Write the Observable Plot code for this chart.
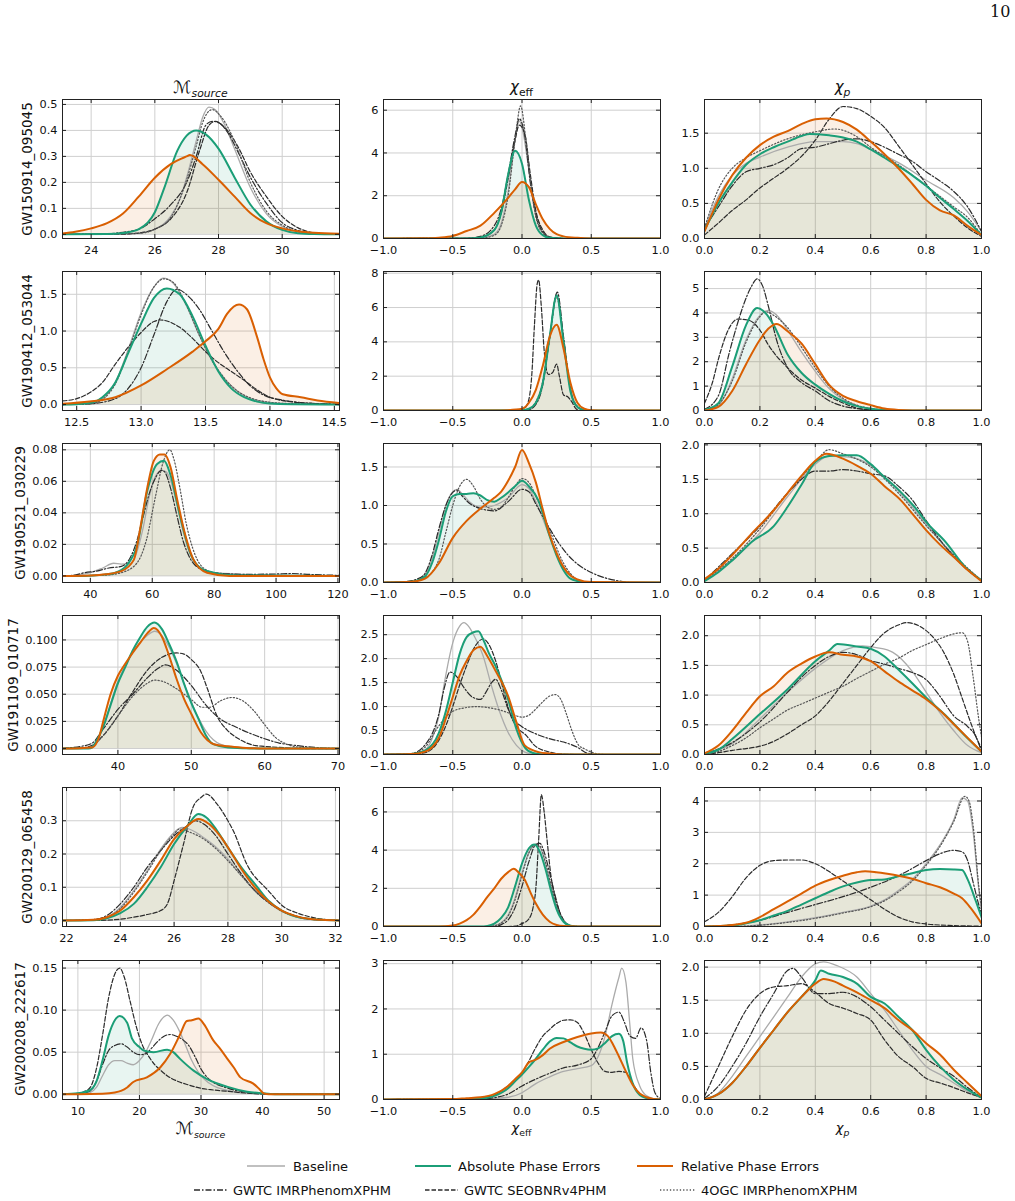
<!DOCTYPE html>
<html>
<head>
<meta charset="utf-8">
<script src="https://cdn.jsdelivr.net/npm/d3@7"></script>
<script src="https://cdn.jsdelivr.net/npm/@observablehq/plot@0.6"></script>
<style>
  body { margin: 0; background: #fff; }
  #page { position: relative; width: 1015px; height: 1201px; background: #fff; font-family: "DejaVu Sans", sans-serif; color: #111; overflow: hidden; }
  .abs { position: absolute; }
  .title { position: absolute; width: 277px; text-align: center; font-size: 14px; line-height: 20px; }
  .title .M { font-size: 17px; }
  .rowlab { position: absolute; width: 160px; text-align: center; font-size: 13.5px; transform: rotate(-90deg); transform-origin: center center; white-space: nowrap; }
  sub { font-size: 72%; }
</style>
</head>
<body>
<div id="page"></div>
<script>
// ---------------- DATA ----------------
const events = ["GW150914_095045","GW190412_053044","GW190521_030229","GW191109_010717","GW200129_065458","GW200208_222617"];
const seriesNames = ["Baseline","Absolute Phase Errors","Relative Phase Errors","GWTC IMRPhenomXPHM","GWTC SEOBNRv4PHM","4OGC IMRPhenomXPHM"];

// GW150914 chirp mass
const gw1_mc_base = [[23.1,0],[25,0.001],[25.5,0.005],[26,0.02],[26.5,0.07],[26.8,0.14],[27,0.22],[27.3,0.36],[27.5,0.45],[27.7,0.49],[27.9,0.48],[28.2,0.42],[28.5,0.33],[29,0.18],[29.5,0.08],[30,0.03],[30.5,0.01],[31,0.002],[31.8,0]];
const gw1_mc_abs = [[23.1,0],[24.5,0.001],[25,0.005],[25.5,0.02],[26,0.085],[26.3,0.18],[26.7,0.32],[27,0.38],[27.3,0.4],[27.6,0.385],[28,0.33],[28.5,0.22],[29,0.115],[29.5,0.05],[30,0.017],[30.5,0.004],[31,0.001],[31.8,0]];
const gw1_mc_rel = [[23.1,0.003],[23.5,0.01],[24,0.023],[24.5,0.043],[25,0.08],[25.5,0.146],[26,0.218],[26.5,0.27],[27,0.3],[27.1,0.305],[27.5,0.27],[28,0.21],[28.5,0.146],[29,0.082],[29.5,0.043],[30,0.023],[30.5,0.012],[31,0.006],[31.8,0.002]];
const gw1_mc_imr = [[23.1,0],[24.5,0.002],[25,0.008],[25.5,0.02],[26,0.06],[26.5,0.114],[27,0.2],[27.3,0.3],[27.6,0.42],[27.8,0.435],[28,0.43],[28.3,0.39],[28.6,0.32],[29,0.22],[29.5,0.12],[30,0.045],[30.5,0.015],[31,0.004],[31.8,0]];
const gw1_mc_seob = [[23.1,0],[25,0.001],[25.5,0.005],[26,0.02],[26.5,0.06],[27,0.16],[27.4,0.32],[27.7,0.42],[27.9,0.435],[28.2,0.41],[28.6,0.34],[29,0.24],[29.5,0.146],[30,0.069],[30.5,0.025],[30.9,0.008],[31.5,0],[31.8,0]];
const gw1_mc_ogc = [[23.1,0],[25.5,0.004],[26,0.02],[26.5,0.065],[27,0.21],[27.3,0.34],[27.5,0.43],[27.8,0.48],[28.1,0.45],[28.5,0.36],[29,0.2],[29.5,0.09],[30,0.035],[30.5,0.01],[31,0.002],[31.8,0]];
// GW150914 chi_eff
const gw1_ce_base = [[-1,0],[-0.4,0],[-0.3,0.02],[-0.2,0.2],[-0.15,0.7],[-0.1,2.2],[-0.05,4.6],[-0.02,5.5],[0,5.2],[0.05,3.2],[0.1,1.2],[0.15,0.3],[0.2,0.05],[0.3,0],[1,0]];
const gw1_ce_abs = [[-1,0],[-0.4,0.005],[-0.3,0.05],[-0.2,0.4],[-0.15,1.2],[-0.1,3.0],[-0.05,4.1],[0,3.5],[0.05,1.8],[0.1,0.6],[0.15,0.15],[0.2,0.03],[0.3,0],[1,0]];
const gw1_ce_rel = [[-1,0],[-0.7,0.01],[-0.6,0.04],[-0.5,0.12],[-0.4,0.35],[-0.3,0.6],[-0.2,1.2],[-0.1,1.9],[-0.05,2.3],[0,2.64],[0.05,2.4],[0.1,1.6],[0.15,0.9],[0.2,0.45],[0.25,0.2],[0.3,0.1],[0.4,0.03],[0.5,0.005],[1,0]];
const gw1_ce_imr = [[-1,0],[-0.4,0.01],[-0.3,0.1],[-0.2,0.6],[-0.15,1.4],[-0.1,3.0],[-0.05,4.8],[-0.02,5.6],[0.02,4.8],[0.06,2.6],[0.1,1.1],[0.15,0.3],[0.2,0.05],[0.3,0],[1,0]];
const gw1_ce_seob = [[-1,0],[-0.4,0.005],[-0.3,0.05],[-0.2,0.4],[-0.15,1.2],[-0.1,2.8],[-0.05,4.6],[-0.02,5.3],[0.02,4.9],[0.06,3.0],[0.1,1.3],[0.15,0.4],[0.2,0.08],[0.3,0],[1,0]];
const gw1_ce_ogc = [[-1,0],[-0.3,0.01],[-0.2,0.15],[-0.15,0.6],[-0.1,2.0],[-0.05,4.6],[-0.01,6.2],[0.03,4.5],[0.07,2.2],[0.1,1.0],[0.15,0.25],[0.2,0.05],[0.3,0],[1,0]];
// GW150914 chi_p
const gw1_cp_base = [[0,0.15],[0.05,0.6],[0.1,0.9],[0.15,1.07],[0.2,1.16],[0.3,1.3],[0.4,1.38],[0.5,1.38],[0.55,1.35],[0.6,1.27],[0.7,1.08],[0.8,0.83],[0.9,0.58],[0.95,0.38],[1,0.1]];
const gw1_cp_abs = [[0,0.12],[0.05,0.5],[0.1,0.8],[0.15,1.05],[0.2,1.2],[0.25,1.3],[0.3,1.38],[0.35,1.46],[0.38,1.49],[0.45,1.47],[0.5,1.44],[0.55,1.38],[0.6,1.27],[0.65,1.15],[0.7,1.03],[0.75,0.9],[0.8,0.75],[0.85,0.58],[0.9,0.42],[0.95,0.25],[1,0.05]];
const gw1_cp_rel = [[0,0.1],[0.05,0.55],[0.1,0.9],[0.15,1.15],[0.2,1.33],[0.25,1.45],[0.3,1.53],[0.35,1.63],[0.4,1.7],[0.44,1.71],[0.5,1.66],[0.55,1.55],[0.6,1.38],[0.65,1.2],[0.7,1.0],[0.75,0.78],[0.8,0.55],[0.85,0.4],[0.9,0.33],[0.95,0.18],[1,0.05]];
const gw1_cp_imr = [[0,0.15],[0.05,0.45],[0.1,0.75],[0.15,0.95],[0.2,1.0],[0.25,1.05],[0.3,1.15],[0.35,1.28],[0.4,1.3],[0.45,1.35],[0.5,1.4],[0.55,1.42],[0.6,1.38],[0.65,1.3],[0.7,1.2],[0.75,1.1],[0.8,0.95],[0.85,0.82],[0.9,0.67],[0.95,0.45],[1,0.1]];
const gw1_cp_seob = [[0,0.05],[0.05,0.22],[0.1,0.4],[0.15,0.55],[0.2,0.72],[0.25,0.86],[0.3,1.0],[0.35,1.17],[0.4,1.4],[0.45,1.7],[0.5,1.88],[0.55,1.85],[0.6,1.74],[0.65,1.58],[0.7,1.32],[0.75,1.05],[0.8,0.78],[0.85,0.52],[0.9,0.32],[0.95,0.15],[1,0.03]];
const gw1_cp_ogc = [[0,0.15],[0.05,0.7],[0.1,1.0],[0.15,1.15],[0.2,1.25],[0.3,1.42],[0.4,1.52],[0.47,1.56],[0.55,1.45],[0.6,1.3],[0.7,1.05],[0.8,0.75],[0.9,0.45],[0.95,0.3],[1,0.05]];

// GW190412
const gw2_mc_base = [[12.39,0],[12.6,0.01],[12.7,0.08],[12.8,0.3],[12.9,0.75],[13,1.25],[13.1,1.6],[13.17,1.72],[13.25,1.65],[13.35,1.35],[13.45,0.95],[13.55,0.6],[13.65,0.35],[13.75,0.18],[13.85,0.08],[14,0.03],[14.2,0.01],[14.54,0]];
const gw2_mc_abs = [[12.39,0],[12.5,0.005],[12.6,0.02],[12.7,0.1],[12.8,0.3],[12.9,0.7],[13,1.1],[13.1,1.45],[13.2,1.58],[13.3,1.5],[13.4,1.2],[13.5,0.8],[13.6,0.45],[13.7,0.22],[13.8,0.1],[13.9,0.04],[14,0.015],[14.2,0.005],[14.54,0]];
const gw2_mc_rel = [[12.39,0.01],[12.6,0.04],[12.8,0.1],[13,0.26],[13.2,0.48],[13.4,0.72],[13.5,0.86],[13.6,1.03],[13.67,1.24],[13.76,1.36],[13.82,1.3],[13.9,0.92],[13.95,0.62],[14,0.37],[14.05,0.22],[14.1,0.14],[14.24,0.1],[14.37,0.055],[14.54,0.02]];
const gw2_mc_imr = [[12.39,0],[12.6,0.01],[12.8,0.08],[12.9,0.22],[13,0.5],[13.1,0.95],[13.2,1.4],[13.28,1.57],[13.35,1.5],[13.45,1.3],[13.55,1.0],[13.65,0.7],[13.75,0.45],[13.85,0.25],[13.95,0.13],[14.1,0.06],[14.3,0.02],[14.54,0.005]];
const gw2_mc_seob = [[12.39,0.05],[12.5,0.08],[12.6,0.16],[12.7,0.3],[12.8,0.55],[12.9,0.78],[13,0.98],[13.1,1.13],[13.15,1.15],[13.3,1.05],[13.4,0.9],[13.5,0.72],[13.6,0.57],[13.7,0.45],[13.8,0.33],[13.9,0.2],[14,0.1],[14.2,0.03],[14.4,0.01],[14.54,0]];
const gw2_mc_ogc = [[12.39,0],[12.6,0.01],[12.7,0.07],[12.8,0.28],[12.9,0.72],[13,1.22],[13.1,1.6],[13.18,1.71],[13.25,1.66],[13.35,1.36],[13.45,0.95],[13.55,0.6],[13.65,0.35],[13.75,0.18],[13.85,0.09],[14,0.03],[14.2,0.01],[14.54,0]];
const gw2_ce_base = [[-1,0],[0,0],[0.05,0.05],[0.1,0.4],[0.15,1.6],[0.2,4.3],[0.25,6.8],[0.3,4.0],[0.35,1.2],[0.4,0.2],[0.45,0.02],[0.5,0],[1,0]];
const gw2_ce_abs = [[-1,0],[0,0.02],[0.05,0.1],[0.1,0.45],[0.15,1.6],[0.2,4.3],[0.25,6.7],[0.3,4.0],[0.35,1.1],[0.4,0.2],[0.45,0.03],[0.5,0],[1,0]];
const gw2_ce_rel = [[-1,0],[-0.2,0],[-0.1,0.02],[0,0.1],[0.05,0.45],[0.1,1.2],[0.15,2.6],[0.2,4.3],[0.25,5.0],[0.3,3.6],[0.35,1.6],[0.4,0.45],[0.45,0.1],[0.5,0.02],[0.6,0],[1,0]];
const gw2_ce_imr = [[-1,0],[0,0],[0.05,0.05],[0.1,0.35],[0.15,1.5],[0.2,4.3],[0.255,6.9],[0.3,4.3],[0.35,1.2],[0.4,0.2],[0.45,0.02],[0.5,0],[1,0]];
const gw2_ce_seob = [[-1,0],[-0.05,0],[0,0.03],[0.04,0.4],[0.07,2.0],[0.09,5.0],[0.11,7.4],[0.12,7.6],[0.14,6.0],[0.16,3.5],[0.19,2.1],[0.22,2.2],[0.25,2.7],[0.27,2.0],[0.3,0.9],[0.33,0.8],[0.36,0.5],[0.39,0.1],[0.42,0],[1,0]];
const gw2_ce_ogc = [[-1,0],[0,0],[0.05,0.1],[0.1,0.5],[0.15,1.7],[0.2,4.2],[0.25,6.6],[0.3,4.2],[0.35,1.3],[0.4,0.25],[0.45,0.03],[0.5,0],[1,0]];
const gw2_cp_base = [[0,0],[0.05,0.2],[0.1,1.3],[0.15,2.9],[0.2,3.9],[0.23,4.1],[0.27,3.8],[0.3,3.3],[0.35,2.4],[0.4,1.6],[0.45,0.9],[0.5,0.45],[0.55,0.2],[0.6,0.08],[0.65,0.02],[0.7,0],[1,0]];
const gw2_cp_abs = [[0,0.02],[0.05,0.3],[0.1,1.8],[0.15,3.5],[0.19,4.2],[0.22,4.0],[0.25,3.5],[0.3,2.3],[0.35,1.55],[0.4,1.06],[0.45,0.68],[0.5,0.38],[0.55,0.18],[0.6,0.07],[0.65,0.01],[0.7,0],[1,0]];
const gw2_cp_rel = [[0,0],[0.05,0.15],[0.1,0.8],[0.15,1.9],[0.2,2.9],[0.23,3.35],[0.26,3.55],[0.3,3.25],[0.35,2.75],[0.4,1.9],[0.45,1.05],[0.5,0.6],[0.55,0.38],[0.6,0.22],[0.65,0.08],[0.7,0.02],[0.75,0],[1,0]];
const gw2_cp_imr = [[0,0.05],[0.05,0.6],[0.09,2.4],[0.12,3.6],[0.14,4.3],[0.17,5.1],[0.19,5.4],[0.21,5.1],[0.23,4.3],[0.26,2.9],[0.3,1.75],[0.35,1.15],[0.4,0.8],[0.45,0.4],[0.5,0.18],[0.55,0.08],[0.6,0.03],[0.7,0],[1,0]];
const gw2_cp_seob = [[0,0.3],[0.03,1.2],[0.05,2.1],[0.09,3.4],[0.12,3.75],[0.16,3.7],[0.2,3.3],[0.23,2.7],[0.3,1.75],[0.35,1.25],[0.4,0.92],[0.45,0.58],[0.5,0.31],[0.55,0.1],[0.6,0.03],[0.7,0],[1,0]];
const gw2_cp_ogc = [[0,0],[0.05,0.25],[0.1,1.2],[0.15,2.8],[0.2,3.85],[0.22,4.05],[0.25,3.9],[0.3,3.4],[0.35,2.6],[0.4,1.75],[0.45,1.0],[0.5,0.5],[0.55,0.22],[0.6,0.08],[0.65,0.02],[0.7,0],[1,0]];

// GW190521 (no SEOBNRv4PHM)
const gw3_mc_base = [[31,0],[36,0.0005],[40,0.002],[44,0.005],[47.5,0.008],[50,0.0075],[53,0.008],[55,0.015],[57,0.03],[59,0.05],[61,0.063],[63,0.067],[64.5,0.066],[66,0.06],[68,0.045],[70,0.028],[72,0.015],[75,0.006],[80,0.002],[90,0.001],[100,0.0005],[120.5,0]];
const gw3_mc_abs = [[31,0],[38,0],[41,0.0002],[44.5,0.0008],[47.6,0.0017],[51.9,0.007],[55.2,0.02],[58.4,0.054],[61.6,0.071],[63.8,0.073],[65.9,0.064],[69.1,0.037],[72.4,0.014],[75.6,0.005],[79.9,0.002],[84.2,0.0006],[90,0.0002],[120.5,0]];
const gw3_mc_rel = [[31,0],[40,0.0003],[45,0.001],[50,0.003],[54,0.01],[56.2,0.031],[58.4,0.056],[60.5,0.073],[62.5,0.077],[64,0.077],[65.9,0.069],[68.1,0.048],[70.8,0.025],[73.4,0.01],[77.7,0.002],[85,0],[120.5,0]];
const gw3_mc_imr = [[31,0],[35,0.0005],[38,0.002],[42,0.003],[46,0.005],[50,0.006],[53,0.012],[55,0.022],[57,0.037],[59,0.052],[61,0.062],[63,0.067],[64,0.066],[66,0.055],[68,0.038],[70,0.022],[72,0.012],[75,0.005],[80,0.002],[90,0.001],[100,0.0012],[105,0.0015],[110,0.001],[120.5,0.0003]];
const gw3_mc_seob = [];
const gw3_mc_ogc = [[31,0],[45,0.0005],[50,0.002],[55,0.008],[58,0.022],[61,0.05],[63.5,0.072],[65.7,0.08],[67,0.074],[69,0.055],[71,0.033],[73,0.018],[76,0.006],[80,0.002],[90,0.0005],[120.5,0]];
const gw3_ce_base = [[-1,0],[-0.8,0.01],[-0.7,0.1],[-0.65,0.3],[-0.6,0.65],[-0.55,1.0],[-0.5,1.18],[-0.47,1.21],[-0.43,1.15],[-0.38,1.05],[-0.3,0.98],[-0.25,0.98],[-0.2,1.0],[-0.1,1.1],[0,1.27],[0.05,1.22],[0.1,1.05],[0.2,0.6],[0.3,0.2],[0.4,0.03],[0.5,0],[1,0]];
const gw3_ce_abs = [[-1,0],[-0.8,0.01],[-0.7,0.08],[-0.65,0.25],[-0.6,0.55],[-0.55,0.92],[-0.5,1.12],[-0.45,1.15],[-0.4,1.15],[-0.35,1.16],[-0.3,1.13],[-0.25,1.07],[-0.2,1.05],[-0.15,1.1],[-0.1,1.17],[-0.05,1.25],[0,1.32],[0.05,1.25],[0.12,1.06],[0.2,0.6],[0.25,0.35],[0.3,0.16],[0.35,0.05],[0.4,0.02],[0.5,0],[1,0]];
const gw3_ce_rel = [[-1,0],[-0.8,0.01],[-0.7,0.05],[-0.6,0.25],[-0.5,0.58],[-0.4,0.8],[-0.3,0.96],[-0.2,1.1],[-0.15,1.18],[-0.1,1.32],[-0.05,1.5],[0,1.72],[0.05,1.55],[0.1,1.3],[0.15,0.95],[0.2,0.62],[0.25,0.38],[0.3,0.2],[0.35,0.09],[0.4,0.04],[0.5,0.005],[1,0]];
const gw3_ce_imr = [[-1,0],[-0.85,0.01],[-0.75,0.05],[-0.7,0.12],[-0.65,0.35],[-0.6,0.7],[-0.55,1.0],[-0.5,1.17],[-0.47,1.2],[-0.43,1.12],[-0.38,1.03],[-0.3,0.96],[-0.25,0.94],[-0.2,0.93],[-0.1,1.05],[0,1.21],[0.05,1.18],[0.1,1.02],[0.2,0.7],[0.27,0.5],[0.33,0.36],[0.4,0.24],[0.5,0.13],[0.6,0.06],[0.7,0.02],[0.78,0],[1,0]];
const gw3_ce_seob = [];
const gw3_ce_ogc = [[-1,0],[-0.8,0.01],[-0.7,0.06],[-0.6,0.3],[-0.55,0.65],[-0.5,1.0],[-0.45,1.25],[-0.4,1.34],[-0.35,1.25],[-0.3,1.08],[-0.25,0.98],[-0.2,0.95],[-0.15,0.98],[-0.1,1.1],[-0.05,1.25],[0,1.35],[0.05,1.3],[0.1,1.12],[0.2,0.68],[0.3,0.25],[0.4,0.04],[0.5,0],[1,0]];
const gw3_cp_base = [[0,0.03],[0.1,0.32],[0.2,0.72],[0.3,1.25],[0.4,1.72],[0.45,1.84],[0.5,1.83],[0.55,1.8],[0.6,1.7],[0.7,1.33],[0.8,0.85],[0.9,0.38],[1,0.03]];
const gw3_cp_abs = [[0,0.02],[0.05,0.15],[0.1,0.32],[0.17,0.59],[0.25,0.82],[0.3,1.1],[0.35,1.42],[0.4,1.75],[0.45,1.84],[0.5,1.85],[0.55,1.85],[0.6,1.72],[0.65,1.53],[0.7,1.35],[0.76,1.09],[0.8,0.88],[0.87,0.59],[0.94,0.23],[1,0.03]];
const gw3_cp_rel = [[0,0.05],[0.05,0.2],[0.1,0.4],[0.17,0.71],[0.25,1.05],[0.3,1.3],[0.35,1.55],[0.4,1.77],[0.44,1.87],[0.5,1.8],[0.55,1.7],[0.6,1.58],[0.65,1.4],[0.71,1.19],[0.75,1.0],[0.8,0.76],[0.85,0.55],[0.9,0.37],[0.95,0.18],[1,0.02]];
const gw3_cp_imr = [[0,0.03],[0.1,0.42],[0.2,0.82],[0.3,1.3],[0.35,1.5],[0.4,1.62],[0.45,1.62],[0.5,1.64],[0.55,1.62],[0.6,1.58],[0.65,1.55],[0.7,1.4],[0.75,1.2],[0.8,0.9],[0.85,0.62],[0.9,0.38],[0.95,0.18],[1,0.03]];
const gw3_cp_seob = [];
const gw3_cp_ogc = [[0,0.03],[0.1,0.35],[0.2,0.78],[0.3,1.3],[0.4,1.75],[0.45,1.93],[0.5,1.87],[0.6,1.68],[0.7,1.3],[0.8,0.83],[0.9,0.4],[1,0.03]];

// GW191109
const gw4_mc_base = [[32.45,0],[36,0.001],[37,0.005],[38,0.02],[40,0.062],[42,0.088],[44,0.104],[45,0.108],[46,0.104],[47,0.093],[48,0.078],[49,0.06],[50,0.043],[51,0.028],[52,0.016],[53,0.008],[55,0.002],[60,0],[70.2,0]];
const gw4_mc_abs = [[32.45,0],[36,0],[36.5,0.001],[37,0.006],[38,0.02],[39,0.04],[40,0.06],[41,0.075],[42,0.09],[43,0.102],[44,0.112],[45,0.116],[46,0.11],[47,0.096],[48,0.08],[49,0.06],[50,0.042],[51,0.027],[52,0.012],[53,0.004],[55,0.001],[60,0],[70.2,0]];
const gw4_mc_rel = [[32.45,0],[36.5,0.001],[37.5,0.012],[38,0.025],[39,0.05],[40,0.067],[41,0.078],[42,0.088],[43,0.097],[44,0.106],[44.9,0.111],[46,0.103],[47,0.085],[48,0.064],[49,0.046],[50,0.032],[51.3,0.015],[53.1,0.004],[55,0.002],[57,0.0008],[60,0],[70.2,0]];
const gw4_mc_imr = [[32.45,0],[33,0.0005],[35,0.002],[36.5,0.005],[38,0.018],[40,0.036],[42,0.05],[44,0.065],[45.5,0.074],[46.5,0.077],[48,0.072],[50,0.058],[52,0.04],[54,0.027],[56,0.02],[58,0.014],[60,0.009],[62,0.005],[64,0.003],[66,0.0015],[68,0.0005],[70.2,0]];
const gw4_mc_seob = [[32.45,0],[35,0.0005],[36.5,0.003],[38,0.012],[40,0.03],[42,0.052],[44,0.072],[46,0.084],[48,0.088],[49,0.087],[50,0.082],[51.3,0.071],[52.2,0.055],[53.5,0.03],[54.9,0.017],[56.7,0.008],[58.5,0.003],[60,0.002],[62,0.001],[65,0],[70.2,0]];
const gw4_mc_ogc = [[32.45,0],[36,0.001],[38,0.012],[40,0.03],[42,0.048],[44,0.06],[45,0.063],[46,0.062],[48,0.055],[50,0.045],[51.5,0.038],[52.5,0.038],[54,0.044],[55.5,0.047],[57,0.044],[58.5,0.035],[60,0.022],[61.5,0.01],[63,0.004],[65,0.001],[68,0],[70.2,0]];
const gw4_ce_base = [[-1,0],[-0.8,0.01],[-0.7,0.1],[-0.65,0.32],[-0.6,0.8],[-0.56,1.5],[-0.5,2.33],[-0.45,2.68],[-0.42,2.75],[-0.38,2.65],[-0.35,2.5],[-0.28,2.05],[-0.22,1.43],[-0.16,0.88],[-0.1,0.46],[-0.04,0.19],[0.02,0.05],[0.1,0],[1,0]];
const gw4_ce_abs = [[-1,0],[-0.8,0.01],[-0.7,0.08],[-0.6,0.45],[-0.55,0.9],[-0.5,1.5],[-0.45,2.1],[-0.4,2.45],[-0.35,2.55],[-0.315,2.57],[-0.28,2.4],[-0.24,2.12],[-0.19,1.84],[-0.1,1.15],[-0.04,0.53],[0.02,0.15],[0.08,0.03],[0.15,0],[1,0]];
const gw4_ce_rel = [[-1,0],[-0.8,0.01],[-0.7,0.06],[-0.6,0.35],[-0.55,0.75],[-0.5,1.2],[-0.45,1.65],[-0.4,1.95],[-0.35,2.18],[-0.3,2.25],[-0.25,2.05],[-0.19,1.74],[-0.1,1.22],[-0.04,0.67],[0.02,0.19],[0.12,0.05],[0.2,0.02],[0.3,0],[1,0]];
const gw4_ce_imr = [[-1,0],[-0.8,0.02],[-0.7,0.2],[-0.6,0.85],[-0.56,1.4],[-0.52,1.72],[-0.47,1.62],[-0.42,1.4],[-0.36,1.2],[-0.3,1.15],[-0.26,1.3],[-0.22,1.5],[-0.19,1.57],[-0.15,1.35],[-0.1,0.95],[-0.05,0.7],[0,0.58],[0.1,0.43],[0.21,0.32],[0.3,0.26],[0.4,0.15],[0.47,0.03],[0.55,0],[1,0]];
const gw4_ce_seob = [[-1,0],[-0.8,0.01],[-0.7,0.04],[-0.6,0.3],[-0.55,0.6],[-0.5,1.0],[-0.45,1.45],[-0.4,1.85],[-0.35,2.2],[-0.28,2.41],[-0.24,2.3],[-0.19,1.95],[-0.13,1.3],[-0.08,0.8],[-0.03,0.55],[0.03,0.4],[0.09,0.19],[0.2,0.05],[0.3,0.01],[0.4,0],[1,0]];
const gw4_ce_ogc = [[-1,0],[-0.8,0.01],[-0.7,0.15],[-0.6,0.6],[-0.5,0.9],[-0.4,0.98],[-0.33,1.0],[-0.25,0.98],[-0.15,0.92],[-0.08,0.85],[0,0.78],[0.05,0.82],[0.1,0.95],[0.15,1.1],[0.2,1.22],[0.24,1.25],[0.28,1.15],[0.32,0.85],[0.36,0.5],[0.41,0.19],[0.45,0.12],[0.5,0.05],[0.55,0.01],[0.6,0],[1,0]];
const gw4_cp_base = [[0,0.01],[0.1,0.18],[0.2,0.6],[0.3,1.05],[0.4,1.45],[0.5,1.75],[0.57,1.83],[0.62,1.8],[0.68,1.72],[0.75,1.4],[0.8,1.05],[0.85,0.7],[0.9,0.4],[0.95,0.15],[1,0.03]];
const gw4_cp_abs = [[0,0.02],[0.05,0.08],[0.1,0.26],[0.2,0.68],[0.3,1.1],[0.4,1.57],[0.45,1.75],[0.48,1.86],[0.55,1.82],[0.6,1.78],[0.65,1.65],[0.7,1.43],[0.75,1.2],[0.8,0.96],[0.87,0.66],[0.94,0.32],[1,0.05]];
const gw4_cp_rel = [[0,0.02],[0.05,0.15],[0.1,0.4],[0.15,0.7],[0.2,0.98],[0.25,1.15],[0.3,1.38],[0.35,1.53],[0.4,1.65],[0.45,1.72],[0.5,1.68],[0.55,1.65],[0.6,1.57],[0.65,1.4],[0.7,1.23],[0.75,1.08],[0.8,0.93],[0.85,0.74],[0.9,0.51],[0.95,0.28],[1,0.05]];
const gw4_cp_imr = [[0,0.01],[0.1,0.2],[0.2,0.55],[0.3,1.05],[0.35,1.3],[0.4,1.5],[0.45,1.65],[0.5,1.72],[0.55,1.68],[0.6,1.58],[0.65,1.52],[0.7,1.45],[0.75,1.38],[0.8,1.26],[0.85,0.98],[0.9,0.65],[0.95,0.47],[0.98,0.3],[1,0.05]];
const gw4_cp_seob = [[0,0.01],[0.05,0.03],[0.1,0.07],[0.15,0.1],[0.2,0.14],[0.25,0.22],[0.3,0.35],[0.35,0.5],[0.4,0.65],[0.45,0.9],[0.5,1.2],[0.55,1.5],[0.6,1.8],[0.65,2.05],[0.7,2.18],[0.73,2.22],[0.78,2.15],[0.82,2.0],[0.86,1.75],[0.9,1.35],[0.93,0.95],[0.96,0.55],[0.98,0.3],[1,0.1]];
const gw4_cp_ogc = [[0,0],[0.05,0.05],[0.1,0.15],[0.15,0.28],[0.2,0.45],[0.25,0.6],[0.3,0.75],[0.35,0.85],[0.4,0.95],[0.45,1.05],[0.5,1.15],[0.55,1.28],[0.6,1.4],[0.65,1.52],[0.7,1.62],[0.75,1.75],[0.8,1.85],[0.85,1.95],[0.9,2.03],[0.93,2.05],[0.95,1.9],[0.97,1.3],[0.99,0.6],[1,0.3]];

// GW200129
const gw5_mc_base = [[21.85,0],[23,0.002],[23.5,0.01],[24,0.04],[24.5,0.09],[25,0.15],[25.5,0.215],[26,0.265],[26.3,0.28],[26.7,0.27],[27,0.255],[27.5,0.225],[28,0.185],[28.5,0.135],[29,0.09],[29.5,0.055],[30,0.028],[30.5,0.012],[31,0.004],[32.15,0]];
const gw5_mc_abs = [[21.85,0],[23,0.001],[23.5,0.007],[24,0.022],[24.5,0.05],[25,0.1],[25.5,0.16],[26,0.23],[26.5,0.285],[26.9,0.32],[27.2,0.31],[27.6,0.27],[28,0.22],[28.5,0.16],[29,0.11],[29.5,0.06],[30,0.03],[30.5,0.013],[31,0.005],[31.5,0.002],[32.15,0]];
const gw5_mc_rel = [[21.85,0],[23,0.002],[23.5,0.01],[24,0.03],[24.5,0.07],[25,0.12],[25.5,0.18],[26,0.245],[26.5,0.285],[26.9,0.305],[27.3,0.29],[27.7,0.255],[28,0.22],[28.5,0.155],[29,0.1],[29.5,0.058],[30,0.03],[30.5,0.014],[31,0.005],[31.5,0.002],[32.15,0]];
const gw5_mc_imr = [[21.85,0],[23,0.003],[23.5,0.015],[24,0.05],[24.5,0.1],[25,0.16],[25.5,0.21],[26,0.255],[26.5,0.285],[26.8,0.3],[27.1,0.29],[27.5,0.26],[28,0.2],[28.5,0.14],[29,0.09],[29.5,0.055],[30,0.03],[30.5,0.014],[31,0.005],[32.15,0]];
const gw5_mc_seob = [[21.85,0],[23,0],[24,0.004],[24.5,0.01],[25,0.018],[25.5,0.03],[25.75,0.05],[26,0.12],[26.35,0.23],[26.7,0.34],[27.0,0.37],[27.2,0.38],[27.6,0.35],[28,0.3],[28.2,0.27],[28.7,0.17],[29.5,0.09],[30.1,0.04],[30.5,0.025],[31,0.012],[31.5,0.004],[32.15,0]];
const gw5_mc_ogc = [[21.85,0],[23,0.002],[23.5,0.009],[24,0.036],[24.5,0.085],[25,0.145],[25.5,0.21],[26,0.26],[26.2,0.275],[26.6,0.265],[27,0.25],[27.5,0.22],[28,0.18],[28.5,0.135],[29,0.09],[29.5,0.055],[30,0.028],[30.5,0.012],[31,0.004],[32.15,0]];
const gw5_ce_base = [[-1,0],[-0.25,0],[-0.2,0.05],[-0.15,0.2],[-0.1,0.6],[-0.05,1.5],[0,2.8],[0.05,3.9],[0.1,4.3],[0.13,4.15],[0.17,3.3],[0.21,2.1],[0.25,1.0],[0.3,0.3],[0.35,0.05],[0.4,0],[1,0]];
const gw5_ce_abs = [[-1,0],[-0.3,0],[-0.25,0.03],[-0.2,0.15],[-0.15,0.45],[-0.1,1.0],[-0.05,2.1],[0,3.3],[0.05,4.1],[0.09,4.3],[0.13,3.9],[0.17,3.0],[0.21,1.86],[0.25,0.9],[0.3,0.25],[0.35,0.04],[0.4,0],[1,0]];
const gw5_ce_rel = [[-1,0],[-0.6,0.005],[-0.5,0.05],[-0.45,0.15],[-0.4,0.33],[-0.35,0.62],[-0.3,1.05],[-0.25,1.55],[-0.2,2.0],[-0.15,2.5],[-0.1,2.85],[-0.06,3.02],[-0.02,2.8],[0.02,2.45],[0.06,1.8],[0.1,1.2],[0.15,0.62],[0.2,0.25],[0.25,0.08],[0.3,0.02],[0.4,0],[1,0]];
const gw5_ce_imr = [[-1,0],[-0.2,0],[-0.15,0.1],[-0.1,0.35],[-0.05,1.0],[0,2.1],[0.05,3.4],[0.1,4.3],[0.13,4.35],[0.16,3.9],[0.2,2.8],[0.24,1.6],[0.28,0.6],[0.32,0.15],[0.36,0.02],[0.4,0],[1,0]];
const gw5_ce_seob = [[-1,0],[-0.1,0],[-0.05,0.02],[0,0.15],[0.05,0.4],[0.08,1.0],[0.1,2.0],[0.12,4.5],[0.14,6.9],[0.16,6.0],[0.18,4.6],[0.21,2.6],[0.24,1.5],[0.27,0.8],[0.3,0.35],[0.33,0.1],[0.36,0.02],[0.4,0],[1,0]];
const gw5_ce_ogc = [[-1,0],[-0.25,0],[-0.2,0.04],[-0.15,0.18],[-0.1,0.55],[-0.05,1.4],[0,2.7],[0.05,3.85],[0.1,4.3],[0.13,4.2],[0.17,3.35],[0.21,2.15],[0.25,1.05],[0.3,0.3],[0.35,0.05],[0.4,0],[1,0]];
const gw5_cp_base = [[0,0],[0.1,0],[0.2,0.05],[0.3,0.15],[0.4,0.28],[0.5,0.45],[0.6,0.65],[0.65,0.85],[0.7,1.15],[0.75,1.5],[0.8,2.0],[0.85,2.6],[0.9,3.4],[0.93,4.1],[0.95,4.0],[0.97,3.0],[0.99,1.2],[1,0.5]];
const gw5_cp_abs = [[0,0],[0.1,0.03],[0.15,0.1],[0.2,0.2],[0.25,0.35],[0.3,0.5],[0.35,0.7],[0.4,0.9],[0.45,1.1],[0.5,1.28],[0.55,1.4],[0.6,1.48],[0.65,1.5],[0.7,1.6],[0.75,1.7],[0.8,1.8],[0.85,1.83],[0.9,1.82],[0.93,1.8],[0.95,1.5],[0.98,0.8],[1,0.3]];
const gw5_cp_rel = [[0,0],[0.1,0.05],[0.15,0.12],[0.2,0.3],[0.25,0.55],[0.3,0.8],[0.35,1.05],[0.4,1.3],[0.45,1.48],[0.5,1.62],[0.55,1.73],[0.58,1.76],[0.62,1.73],[0.66,1.68],[0.7,1.62],[0.75,1.52],[0.8,1.38],[0.85,1.25],[0.9,1.05],[0.93,0.9],[0.96,0.6],[1,0.1]];
const gw5_cp_imr = [[0,0],[0.1,0.05],[0.2,0.2],[0.3,0.45],[0.4,0.7],[0.5,0.95],[0.6,1.25],[0.7,1.62],[0.75,1.85],[0.8,2.1],[0.85,2.32],[0.9,2.43],[0.93,2.38],[0.95,2.1],[0.97,1.4],[0.99,0.7],[1,0.4]];
const gw5_cp_seob = [[0,0.15],[0.05,0.45],[0.1,0.95],[0.15,1.55],[0.2,1.95],[0.25,2.1],[0.3,2.12],[0.35,2.12],[0.4,2.0],[0.45,1.75],[0.5,1.45],[0.55,1.15],[0.6,0.85],[0.65,0.55],[0.7,0.3],[0.75,0.15],[0.8,0.08],[0.9,0.03],[1,0.01]];
const gw5_cp_ogc = [[0,0],[0.1,0],[0.2,0.04],[0.3,0.13],[0.4,0.26],[0.5,0.43],[0.6,0.63],[0.65,0.82],[0.7,1.1],[0.75,1.45],[0.8,1.95],[0.85,2.55],[0.9,3.35],[0.94,4.15],[0.955,4.0],[0.97,3.2],[0.99,1.3],[1,0.6]];

// GW200208 (no 4OGC)
const gw6_mc_base = [[7.5,0],[10,0],[12,0.002],[13,0.008],[14,0.022],[15,0.035],[16,0.04],[17,0.04],[18,0.037],[19,0.035],[20,0.04],[21,0.05],[22,0.065],[23,0.082],[24,0.092],[24.5,0.094],[25.5,0.088],[26.5,0.075],[27.5,0.058],[28.5,0.04],[29.5,0.027],[30.5,0.018],[32,0.01],[34,0.005],[36,0.002],[38,0.001],[40,0],[52.5,0]];
const gw6_mc_abs = [[7.5,0],[10,0.001],[12,0.005],[13,0.015],[14,0.04],[15,0.07],[16,0.088],[16.8,0.093],[18,0.085],[18.8,0.066],[20,0.056],[20.7,0.052],[22.3,0.05],[24.5,0.053],[25.5,0.05],[26.6,0.042],[28.8,0.028],[31,0.018],[34.2,0.009],[37.5,0.003],[40,0.001],[42,0],[52.5,0]];
const gw6_mc_rel = [[7.5,0],[10,0],[14,0.0005],[16,0.002],[17,0.004],[18,0.008],[19,0.0145],[21.2,0.02],[23.4,0.032],[25,0.048],[26.6,0.071],[27.7,0.087],[28.5,0.088],[29.6,0.09],[30.5,0.083],[32,0.064],[33,0.055],[34.2,0.043],[35.3,0.032],[36.4,0.02],[38.5,0.0126],[39.5,0.006],[40.2,0.001],[41,0],[52.5,0]];
const gw6_mc_imr = [[7.5,0],[10,0.0005],[12,0.004],[13,0.015],[14,0.035],[15,0.052],[16,0.058],[17,0.06],[18,0.056],[19,0.05],[20,0.047],[21,0.048],[22,0.055],[23,0.063],[24,0.069],[25,0.071],[26,0.069],[27,0.065],[28,0.058],[29,0.045],[30,0.03],[31,0.02],[32,0.014],[34,0.008],[36,0.004],[38,0.002],[40,0.001],[42,0],[52.5,0]];
const gw6_mc_seob = [[7.5,0],[10,0.001],[11,0.003],[12,0.008],[13,0.03],[14,0.07],[15,0.115],[16,0.143],[16.8,0.15],[17.5,0.14],[18.5,0.11],[19.5,0.08],[20.5,0.058],[21.5,0.045],[22.5,0.035],[23.5,0.028],[24.5,0.022],[26,0.016],[28,0.011],[30,0.007],[32,0.005],[35,0.003],[38,0.001],[42,0],[52.5,0]];
const gw6_mc_ogc = [];
const gw6_ce_base = [[-1,0],[-0.3,0.01],[-0.1,0.05],[0,0.15],[0.05,0.25],[0.1,0.35],[0.2,0.5],[0.3,0.62],[0.4,0.68],[0.5,0.75],[0.55,0.95],[0.6,1.4],[0.65,2.1],[0.7,2.7],[0.72,2.9],[0.75,2.6],[0.78,1.6],[0.8,0.9],[0.85,0.3],[0.9,0.08],[0.95,0.02],[1,0]];
const gw6_ce_abs = [[-1,0],[-0.5,0.005],[-0.3,0.02],[-0.2,0.08],[-0.1,0.25],[-0.05,0.4],[0,0.55],[0.05,0.72],[0.1,0.9],[0.15,1.1],[0.2,1.28],[0.25,1.36],[0.3,1.35],[0.35,1.26],[0.4,1.17],[0.45,1.12],[0.5,1.1],[0.55,1.13],[0.6,1.25],[0.65,1.4],[0.7,1.45],[0.73,1.3],[0.76,0.8],[0.8,0.35],[0.85,0.1],[0.9,0.03],[0.95,0.01],[1,0]];
const gw6_ce_rel = [[-1,0],[-0.5,0.01],[-0.4,0.03],[-0.3,0.05],[-0.2,0.12],[-0.1,0.3],[-0.05,0.45],[0,0.6],[0.05,0.82],[0.1,0.88],[0.15,0.98],[0.2,1.12],[0.3,1.27],[0.4,1.38],[0.5,1.46],[0.57,1.48],[0.62,1.4],[0.66,1.2],[0.7,0.95],[0.75,0.62],[0.8,0.32],[0.85,0.13],[0.9,0.05],[0.95,0.01],[1,0]];
const gw6_ce_imr = [[-1,0],[-0.3,0.01],[-0.2,0.04],[-0.1,0.12],[0,0.3],[0.1,0.45],[0.2,0.58],[0.3,0.7],[0.4,0.76],[0.5,0.9],[0.55,1.15],[0.6,1.5],[0.65,1.85],[0.7,1.93],[0.74,1.7],[0.78,1.4],[0.82,1.35],[0.86,1.58],[0.9,1.3],[0.93,0.6],[0.96,0.15],[1,0.02]];
const gw6_ce_seob = [[-1,0],[-0.4,0.01],[-0.3,0.03],[-0.2,0.1],[-0.1,0.3],[0,0.58],[0.05,0.85],[0.1,1.15],[0.15,1.4],[0.2,1.55],[0.25,1.68],[0.3,1.75],[0.35,1.76],[0.4,1.7],[0.45,1.45],[0.5,1.1],[0.55,0.8],[0.6,0.62],[0.65,0.6],[0.7,0.62],[0.75,0.6],[0.8,0.35],[0.85,0.12],[0.9,0.04],[0.95,0.01],[1,0]];
const gw6_ce_ogc = [];
const gw6_cp_base = [[0,0],[0.05,0.1],[0.1,0.35],[0.15,0.65],[0.2,0.95],[0.25,1.25],[0.3,1.55],[0.35,1.85],[0.4,2.05],[0.43,2.08],[0.48,2.02],[0.55,1.85],[0.6,1.6],[0.65,1.35],[0.7,1.05],[0.75,0.75],[0.8,0.5],[0.85,0.38],[0.9,0.25],[0.95,0.12],[1,0.03]];
const gw6_cp_abs = [[0,0],[0.05,0.08],[0.1,0.25],[0.15,0.5],[0.2,0.78],[0.25,1.05],[0.3,1.32],[0.35,1.55],[0.4,1.8],[0.42,1.95],[0.45,1.9],[0.5,1.85],[0.55,1.75],[0.6,1.55],[0.65,1.45],[0.7,1.25],[0.75,1.05],[0.8,0.75],[0.85,0.5],[0.9,0.3],[0.95,0.15],[1,0.03]];
const gw6_cp_rel = [[0,0],[0.05,0.08],[0.1,0.25],[0.15,0.5],[0.2,0.78],[0.25,1.05],[0.3,1.32],[0.35,1.55],[0.4,1.75],[0.43,1.82],[0.47,1.78],[0.5,1.72],[0.55,1.62],[0.6,1.5],[0.65,1.38],[0.7,1.2],[0.75,1.05],[0.8,0.85],[0.85,0.68],[0.9,0.45],[0.95,0.25],[1,0.05]];
const gw6_cp_imr = [[0,0.02],[0.05,0.2],[0.1,0.5],[0.15,0.85],[0.2,1.25],[0.25,1.6],[0.3,1.95],[0.32,1.98],[0.35,1.85],[0.4,1.6],[0.45,1.6],[0.5,1.62],[0.55,1.55],[0.6,1.4],[0.65,1.2],[0.7,1.0],[0.75,0.8],[0.8,0.62],[0.85,0.48],[0.9,0.35],[0.95,0.18],[1,0.03]];
const gw6_cp_seob = [[0,0.05],[0.05,0.5],[0.1,0.95],[0.15,1.35],[0.2,1.6],[0.25,1.7],[0.3,1.72],[0.35,1.75],[0.4,1.62],[0.45,1.45],[0.5,1.38],[0.55,1.3],[0.6,1.2],[0.65,0.9],[0.7,0.65],[0.75,0.5],[0.8,0.32],[0.85,0.25],[0.9,0.18],[0.95,0.1],[1,0.03]];
const gw6_cp_ogc = [];

// axes (domains + ticks) per row
const mcXDomains = [[23.1,31.8],[12.39,14.54],[31,120.5],[32.45,70.2],[21.85,32.15],[7.5,52.5]];
const mcXTicks = [[24,26,28,30],[12.5,13,13.5,14,14.5],[40,60,80,100,120],[40,50,60,70],[22,24,26,28,30,32],[10,20,30,40,50]];
const mcXDecimals = [0,1,0,0,0,0];
const mcYDomains = [[-0.016,0.519],[-0.081,1.81],[-0.0042,0.084],[-0.0055,0.1225],[-0.018,0.40],[-0.0063,0.159]];
const mcYTicks = [[0,0.1,0.2,0.3,0.4,0.5],[0,0.5,1,1.5],[0,0.02,0.04,0.06,0.08],[0,0.025,0.05,0.075,0.1],[0,0.1,0.2,0.3],[0,0.05,0.1,0.15]];
const mcYDecimals = [1,1,2,3,1,2];
const ceXTicks = [-1,-0.5,0,0.5,1];
const ceYDomains = [[0,6.5],[0,8.1],[0,1.805],[0,2.9],[0,7.28],[0,3.07]];
const ceYTicks = [[0,2,4,6],[0,2,4,6,8],[0,0.5,1,1.5],[0,0.5,1,1.5,2,2.5],[0,2,4,6],[0,1,2,3]];
const ceYDecimals = [0,0,1,1,0,0];
const cpXTicks = [0,0.2,0.4,0.6,0.8,1];
const cpYDomains = [[0,1.98],[0,5.7],[0,2.02],[0,2.34],[0,4.43],[0,2.1]];
const cpYTicks = [[0,0.5,1,1.5],[0,1,2,3,4,5],[0,0.5,1,1.5,2],[0,0.5,1,1.5,2],[0,1,2,3,4],[0,0.5,1,1.5,2]];
const cpYDecimals = [1,0,1,1,0,1];

// ---------------- build ----------------
const all = {
  gw1_mc_base,gw1_mc_abs,gw1_mc_rel,gw1_mc_imr,gw1_mc_seob,gw1_mc_ogc,gw1_ce_base,gw1_ce_abs,gw1_ce_rel,gw1_ce_imr,gw1_ce_seob,gw1_ce_ogc,gw1_cp_base,gw1_cp_abs,gw1_cp_rel,gw1_cp_imr,gw1_cp_seob,gw1_cp_ogc,
  gw2_mc_base,gw2_mc_abs,gw2_mc_rel,gw2_mc_imr,gw2_mc_seob,gw2_mc_ogc,gw2_ce_base,gw2_ce_abs,gw2_ce_rel,gw2_ce_imr,gw2_ce_seob,gw2_ce_ogc,gw2_cp_base,gw2_cp_abs,gw2_cp_rel,gw2_cp_imr,gw2_cp_seob,gw2_cp_ogc,
  gw3_mc_base,gw3_mc_abs,gw3_mc_rel,gw3_mc_imr,gw3_mc_seob,gw3_mc_ogc,gw3_ce_base,gw3_ce_abs,gw3_ce_rel,gw3_ce_imr,gw3_ce_seob,gw3_ce_ogc,gw3_cp_base,gw3_cp_abs,gw3_cp_rel,gw3_cp_imr,gw3_cp_seob,gw3_cp_ogc,
  gw4_mc_base,gw4_mc_abs,gw4_mc_rel,gw4_mc_imr,gw4_mc_seob,gw4_mc_ogc,gw4_ce_base,gw4_ce_abs,gw4_ce_rel,gw4_ce_imr,gw4_ce_seob,gw4_ce_ogc,gw4_cp_base,gw4_cp_abs,gw4_cp_rel,gw4_cp_imr,gw4_cp_seob,gw4_cp_ogc,
  gw5_mc_base,gw5_mc_abs,gw5_mc_rel,gw5_mc_imr,gw5_mc_seob,gw5_mc_ogc,gw5_ce_base,gw5_ce_abs,gw5_ce_rel,gw5_ce_imr,gw5_ce_seob,gw5_ce_ogc,gw5_cp_base,gw5_cp_abs,gw5_cp_rel,gw5_cp_imr,gw5_cp_seob,gw5_cp_ogc,
  gw6_mc_base,gw6_mc_abs,gw6_mc_rel,gw6_mc_imr,gw6_mc_seob,gw6_mc_ogc,gw6_ce_base,gw6_ce_abs,gw6_ce_rel,gw6_ce_imr,gw6_ce_seob,gw6_ce_ogc,gw6_cp_base,gw6_cp_abs,gw6_cp_rel,gw6_cp_imr,gw6_cp_seob,gw6_cp_ogc
};

const GREEN = "#1b9e77", ORANGE = "#d95f02", GRAY = "#ababab", DARK = "#2b2b2b";
const W = 277, H = 139, ML = 48, MR = 14, MT = 6, MB = 26;
const colLeft = [62, 383, 704];
const rowTop = r => 99 + 172.1 * r;
const rowLabelX = [27, 27, 20, 12.5, 27, 19.5];
const page = document.getElementById("page");
const curve = "monotone-x";
const X = d => d[0], Y = d => d[1];

function add(html, style, cls) {
  const d = document.createElement("div");
  if (cls) d.className = cls;
  d.innerHTML = html;
  Object.assign(d.style, style);
  page.appendChild(d);
  return d;
}

const params = ["mc","ce","cp"];
for (let r = 0; r < 6; r++) {
  for (let c = 0; c < 3; c++) {
    const key = `gw${r+1}_${params[c]}_`;
    const s = n => all[key + n];
    let xd, xt, xdec, yd, yt, ydec;
    if (c === 0) { xd = mcXDomains[r]; xt = mcXTicks[r]; xdec = mcXDecimals[r]; yd = mcYDomains[r]; yt = mcYTicks[r]; ydec = mcYDecimals[r]; }
    else if (c === 1) { xd = [-1,1]; xt = ceXTicks; xdec = 1; yd = ceYDomains[r]; yt = ceYTicks[r]; ydec = ceYDecimals[r]; }
    else { xd = [0,1]; xt = cpXTicks; xdec = 1; yd = cpYDomains[r]; yt = cpYTicks[r]; ydec = cpYDecimals[r]; }
    const fx = d3.format(`.${xdec}f`), fy = d3.format(`.${ydec}f`);
    const marks = [
      Plot.gridX(xt, {stroke: "#cfcfcf", strokeOpacity: 1, strokeWidth: 1}),
      Plot.gridY(yt, {stroke: "#cfcfcf", strokeOpacity: 1, strokeWidth: 1}),
      Plot.areaY(s("abs"), {x: X, y: Y, fill: GREEN, fillOpacity: 0.1, curve, clip: true}),
      Plot.areaY(s("rel"), {x: X, y: Y, fill: ORANGE, fillOpacity: 0.1, curve, clip: true}),
      Plot.line(s("base"), {x: X, y: Y, stroke: GRAY, strokeWidth: 1.3, curve, clip: true}),
    ];
    if (s("imr").length) marks.push(Plot.line(s("imr"), {x: X, y: Y, stroke: DARK, strokeWidth: 1.2, strokeDasharray: "6,2,1.5,2", curve, clip: true}));
    if (s("seob").length) marks.push(Plot.line(s("seob"), {x: X, y: Y, stroke: DARK, strokeWidth: 1.2, strokeDasharray: "4.5,2", curve, clip: true}));
    if (s("ogc").length) marks.push(Plot.line(s("ogc"), {x: X, y: Y, stroke: "#555", strokeWidth: 1.2, strokeDasharray: "1.3,2", curve, clip: true}));
    marks.push(
      Plot.line(s("abs"), {x: X, y: Y, stroke: GREEN, strokeWidth: 2, curve, clip: true}),
      Plot.line(s("rel"), {x: X, y: Y, stroke: ORANGE, strokeWidth: 2, curve, clip: true}),
      Plot.frame({stroke: "#222", strokeWidth: 1}),
      Plot.tickX(xt, {x: d => d, insetTop: H - 4, stroke: "#222"}),
      Plot.tickX(xt, {x: d => d, insetBottom: H - 4, stroke: "#222"}),
      Plot.tickY(yt, {y: d => d, insetRight: W - 4, stroke: "#222"}),
      Plot.tickY(yt, {y: d => d, insetLeft: W - 4, stroke: "#222"}),
      Plot.axisX(xt, {tickSize: 0, tickPadding: 7, tickFormat: fx, label: null}),
      Plot.axisY(yt, {tickSize: 0, tickPadding: 5, tickFormat: fy, label: null})
    );
    const svg = Plot.plot({
      width: W + ML + MR, height: H + MT + MB,
      marginLeft: ML, marginRight: MR, marginTop: MT, marginBottom: MB,
      style: {fontFamily: "DejaVu Sans", fontSize: "11.3px", color: "#111", background: "transparent", overflow: "visible"},
      x: {domain: xd},
      y: {domain: yd},
      marks
    });
    const holder = add("", {position: "absolute", left: (colLeft[c] - ML) + "px", top: (rowTop(r) - MT) + "px"});
    holder.appendChild(svg);
  }
  // row label (x follows the width of the tick labels, as in the reference)
  add(events[r], {left: (rowLabelX[r] - 80) + "px", top: (rowTop(r) + H / 2 - 9) + "px", lineHeight: "18px"}, "rowlab");
}

// column titles and bottom x labels
const colTitles = ['<span class="M">ℳ</span><sub><i>source</i></sub>', '<i>χ</i><sub>eff</sub>', '<i>χ</i><sub><i>p</i></sub>'];
for (let c = 0; c < 3; c++) {
  add(colTitles[c], {left: colLeft[c] + "px", top: "77px", fontSize: "15px"}, "title");
  add(colTitles[c], {left: colLeft[c] + "px", top: "1118px", fontSize: "13px"}, "title");
}

// page number
add("10", {left: "990px", top: "2px", fontFamily: "'DejaVu Serif', 'Liberation Serif', serif", fontSize: "16px"}, "abs");

// legend
const lg = `
<svg width="1015" height="50" xmlns="http://www.w3.org/2000/svg" style="font-family:'DejaVu Sans';font-size:13px">
  <line x1="247" x2="285" y1="16" y2="16" stroke="${GRAY}" stroke-width="1.6"/>
  <text x="293" y="20.5" fill="#111">${seriesNames[0]}</text>
  <line x1="415" x2="451" y1="16" y2="16" stroke="${GREEN}" stroke-width="2.2"/>
  <text x="458" y="20.5" fill="#111">${seriesNames[1]}</text>
  <line x1="637" x2="673" y1="16" y2="16" stroke="${ORANGE}" stroke-width="2.2"/>
  <text x="681" y="20.5" fill="#111">${seriesNames[2]}</text>
  <line x1="194" x2="227" y1="40" y2="40" stroke="${DARK}" stroke-width="1.3" stroke-dasharray="6,2,1.5,2"/>
  <text x="233" y="44.5" fill="#111">${seriesNames[3]}</text>
  <line x1="425" x2="458" y1="40" y2="40" stroke="${DARK}" stroke-width="1.3" stroke-dasharray="4.5,2"/>
  <text x="464" y="44.5" fill="#111">${seriesNames[4]}</text>
  <line x1="660" x2="695" y1="40" y2="40" stroke="#555" stroke-width="1.3" stroke-dasharray="1.3,2"/>
  <text x="701" y="44.5" fill="#111">${seriesNames[5]}</text>
</svg>`;
add(lg, {left: "0px", top: "1150px"}, "abs");
</script>
</body>
</html>
